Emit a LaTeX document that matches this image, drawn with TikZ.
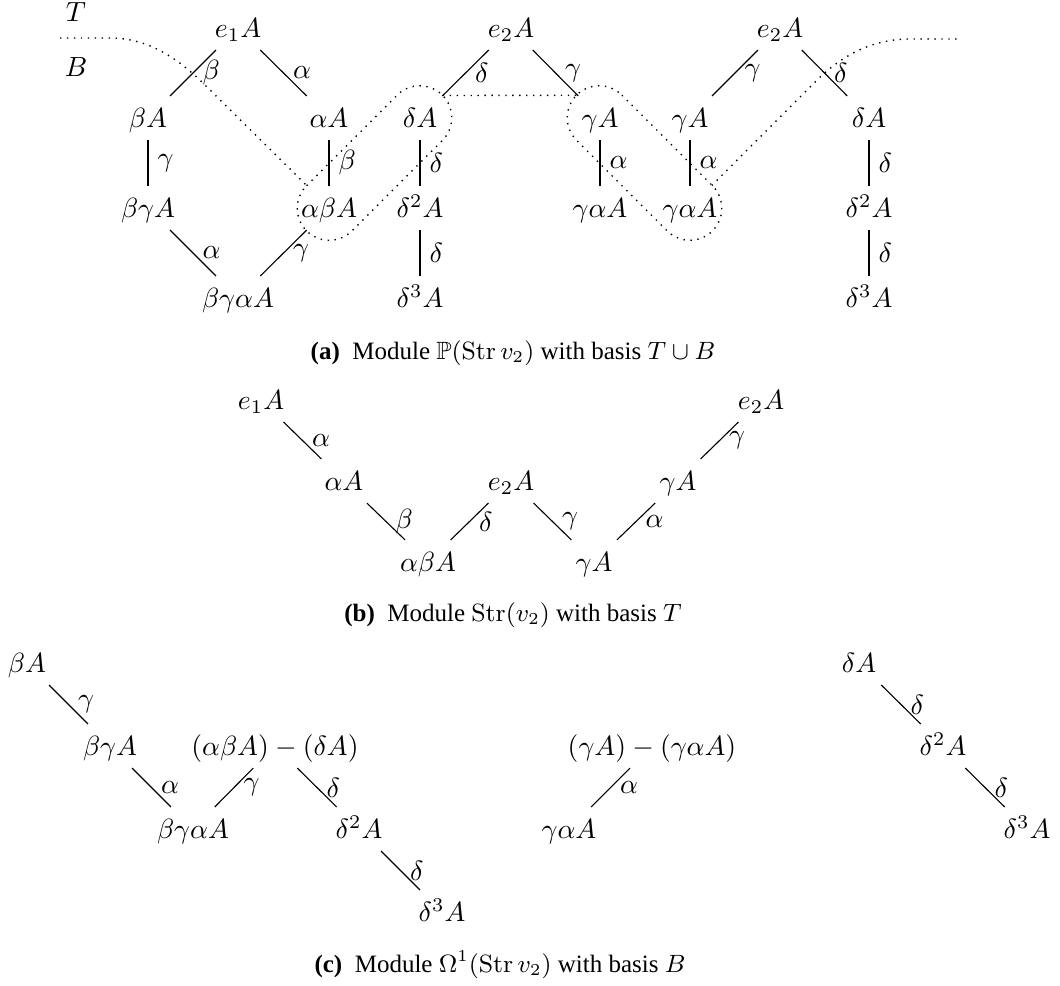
\documentclass[tikz,border=0pt]{standalone}
\usepackage{amsmath,amssymb}
\usepackage[no-math]{fontspec}
\setmainfont{Liberation Serif}
\tikzset{
  cell/.style={inner xsep=3pt, inner ysep=4.3pt, text height=6.9pt, text depth=0pt, font=\fontsize{10}{12}\selectfont},
  link/.style={line width=0.4pt},
  lbl/.style={midway, right, inner sep=3.3pt, font=\fontsize{10}{12}\selectfont},
  sepline/.style={dotted, line width=0.5pt},
  capt/.style={inner sep=0pt, font=\fontsize{9}{11}\selectfont}
}
\begin{document}
\begin{tikzpicture}[x=0.36pt, y=-0.36pt]
\useasboundingbox (0,0) rectangle (1060,985);
% ---------- (a) ----------
\node[cell] (lT) at (76,12) {$T$};
\node[cell] (lB) at (76,67) {$B$};
\node[cell] (a1) at (238,28) {$e_1A$};
\node[cell] (a2) at (148,118) {$\beta A$};
\node[cell] (a3) at (329,118) {$\alpha A$};
\node[cell] (a4) at (148,208) {$\beta\gamma A$};
\node[cell] (a5) at (329,208) {$\alpha\beta A$};
\node[cell] (a6) at (238,298) {$\beta\gamma\alpha A$};
\node[cell] (a7) at (511,28) {$e_2A$};
\node[cell] (a8) at (420,118) {$\delta A$};
\node[cell] (a9) at (600,118) {$\gamma A$};
\node[cell] (a10) at (420,208) {$\delta^2A$};
\node[cell] (a11) at (420,298) {$\delta^3A$};
\node[cell] (a12) at (600,208) {$\gamma\alpha A$};
\node[cell] (a13) at (780,28) {$e_2A$};
\node[cell] (a14) at (690,118) {$\gamma A$};
\node[cell] (a15) at (869,118) {$\delta A$};
\node[cell] (a16) at (690,208) {$\gamma\alpha A$};
\node[cell] (a17) at (869,208) {$\delta^2A$};
\node[cell] (a18) at (869,298) {$\delta^3A$};
\draw[link] (a1) -- node[lbl]{$\beta$} (a2);
\draw[link] (a1) -- node[lbl]{$\alpha$} (a3);
\draw[link] (a2) -- node[lbl]{$\gamma$} (a4);
\draw[link] (a3) -- node[lbl]{$\beta$} (a5);
\draw[link] (a4) -- node[lbl]{$\alpha$} (a6);
\draw[link] (a6) -- node[lbl]{$\gamma$} (a5);
\draw[link] (a7) -- node[lbl]{$\delta$} (a8);
\draw[link] (a7) -- node[lbl]{$\gamma$} (a9);
\draw[link] (a8) -- node[lbl]{$\delta$} (a10);
\draw[link] (a10) -- node[lbl]{$\delta$} (a11);
\draw[link] (a9) -- node[lbl]{$\alpha$} (a12);
\draw[link] (a13) -- node[lbl]{$\gamma$} (a14);
\draw[link] (a13) -- node[lbl]{$\delta$} (a15);
\draw[link] (a14) -- node[lbl]{$\alpha$} (a16);
\draw[link] (a15) -- node[lbl]{$\delta$} (a17);
\draw[link] (a17) -- node[lbl]{$\delta$} (a18);
% separating curve
\draw[sepline] (60,38) -- (110,38) .. controls (150,38) and (180,60) .. (207,87) -- (306.5,185.25);
\begin{scope}[shift={(374.5,163)}, x=1pt, y=1pt, rotate=45]
  \draw[sepline] (-23.04,11.52) -- (23.04,11.52) arc[start angle=90, end angle=-90, radius=11.52pt]
    -- (-23.04,-11.52) arc[start angle=270, end angle=90, radius=11.52pt] -- cycle;
\end{scope}
\draw[sepline] (442.75,95.5) -- (577.5,95.25);
\begin{scope}[shift={(644.5,163)}, x=1pt, y=1pt, rotate=-45]
  \draw[sepline] (-23.04,11.52) -- (23.04,11.52) arc[start angle=90, end angle=-90, radius=11.52pt]
    -- (-23.04,-11.52) arc[start angle=270, end angle=90, radius=11.52pt] -- cycle;
\end{scope}
\draw[sepline] (711.75,185.5) -- (815,82) .. controls (840,57) and (870,39) .. (910,39) -- (957,39);
\node[capt] (capA) at (513,353) {\textbf{(a)}\enspace Module $\mathbb{P}(\operatorname{Str} v_2)$ with basis $T\cup B$};
% ---------- (b) ----------
\node[cell] (b1) at (261,400) {$e_1A$};
\node[cell] (b2) at (344,481) {$\alpha A$};
\node[cell] (b3) at (428,562) {$\alpha\beta A$};
\node[cell] (b4) at (511,481) {$e_2A$};
\node[cell] (b5) at (594,562) {$\gamma A$};
\node[cell] (b6) at (678,481) {$\gamma A$};
\node[cell] (b7) at (761,400) {$e_2A$};
\draw[link] (b1) -- node[lbl]{$\alpha$} (b2);
\draw[link] (b2) -- node[lbl]{$\beta$} (b3);
\draw[link] (b4) -- node[lbl]{$\delta$} (b3);
\draw[link] (b4) -- node[lbl]{$\gamma$} (b5);
\draw[link] (b6) -- node[lbl]{$\alpha$} (b5);
\draw[link] (b7) -- node[lbl]{$\gamma$} (b6);
\node[capt] (capB) at (513,615) {\textbf{(b)}\enspace Module $\operatorname{Str}(v_2)$ with basis $T$};
% ---------- (c) ----------
\node[cell] (c1) at (27,663) {$\beta A$};
\node[cell] (c2) at (110,746) {$\beta\gamma A$};
\node[cell] (c3) at (193,829) {$\beta\gamma\alpha A$};
\node[cell] (c4) at (275,746) {$(\alpha\beta A)-(\delta A)$};
\node[cell] (c5) at (359,829) {$\delta^2A$};
\node[cell] (c6) at (442,912) {$\delta^3A$};
\node[cell] (c7) at (652,746) {$(\gamma A)-(\gamma\alpha A)$};
\node[cell] (c8) at (569,829) {$\gamma\alpha A$};
\node[cell] (c9) at (859,663) {$\delta A$};
\node[cell] (c10) at (943,746) {$\delta^2A$};
\node[cell] (c11) at (1027,829) {$\delta^3A$};
\draw[link] (c1) -- node[lbl]{$\gamma$} (c2);
\draw[link] (c2) -- node[lbl]{$\alpha$} (c3);
\draw[link] (c3) -- node[lbl]{$\gamma$} (c4);
\draw[link] (c4) -- node[lbl]{$\delta$} (c5);
\draw[link] (c5) -- node[lbl]{$\delta$} (c6);
\draw[link] (c8) -- node[lbl]{$\alpha$} (c7);
\draw[link] (c9) -- node[lbl]{$\delta$} (c10);
\draw[link] (c10) -- node[lbl]{$\delta$} (c11);
\node[capt] (capC) at (500,965) {\textbf{(c)}\enspace Module $\Omega^1(\operatorname{Str} v_2)$ with basis $B$};
\end{tikzpicture}
\end{document}
